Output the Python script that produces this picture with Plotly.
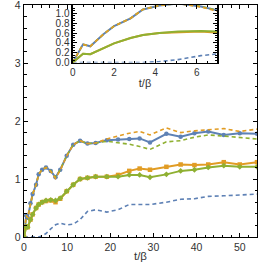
import plotly.graph_objects as go

# time grid (t/beta)
t = [0, 0.5, 0.85, 1.5, 2.0, 2.8, 3.4, 4.2, 5.1, 6.2, 7.3, 8.4, 9.9, 11.4, 13.0, 14.7, 16.6,
     19.2, 21.8, 24.4, 26.8, 29.2, 33.0, 36.3, 39.5, 42.7, 46.3, 50.0, 54.0]

blue_solid = [0, 0.37, 0.33, 0.58, 0.74, 0.90, 1.08, 1.16, 1.20, 1.14, 1.03, 1.16, 1.40, 1.59, 1.66, 1.61, 1.62,
              1.67, 1.68, 1.69, 1.70, 1.63, 1.78, 1.73, 1.79, 1.82, 1.76, 1.79, 1.78]
orange_dashed = [0, 0.37, 0.33, 0.58, 0.74, 0.90, 1.08, 1.16, 1.20, 1.13, 1.01, 1.15, 1.40, 1.59, 1.66, 1.61, 1.62,
                 1.69, 1.74, 1.79, 1.82, 1.76, 1.88, 1.80, 1.83, 1.85, 1.87, 1.82, 1.86]
green_dashed = [0, 0.37, 0.33, 0.58, 0.74, 0.90, 1.08, 1.16, 1.20, 1.14, 1.03, 1.16, 1.40, 1.59, 1.66, 1.61, 1.62,
                1.65, 1.63, 1.60, 1.56, 1.51, 1.64, 1.66, 1.72, 1.76, 1.74, 1.71, 1.69]
orange_solid = [0, 0.18, 0.17, 0.30, 0.39, 0.50, 0.56, 0.60, 0.62, 0.63, 0.60, 0.66, 0.79, 0.90, 1.00, 1.02, 1.04,
                1.04, 1.07, 1.14, 1.18, 1.16, 1.21, 1.25, 1.24, 1.25, 1.29, 1.25, 1.29]
green_solid = [0, 0.18, 0.17, 0.30, 0.39, 0.50, 0.56, 0.60, 0.63, 0.64, 0.63, 0.67, 0.79, 0.90, 1.00, 1.02, 1.04,
               1.04, 1.04, 1.07, 1.07, 1.03, 1.08, 1.14, 1.16, 1.20, 1.23, 1.21, 1.21]
blue_dashed = [0, 0, 0, 0, 0, 0, 0, 0.02, 0.06, 0.14, 0.21, 0.24, 0.21, 0.22, 0.30, 0.44, 0.47,
               0.43, 0.47, 0.56, 0.56, 0.56, 0.60, 0.65, 0.66, 0.70, 0.71, 0.72, 0.74]

main_xticks = [0, 10, 20, 30, 40, 50]
main_yticks = [0, 1, 2, 3, 4]
inset_xticks = [0, 2, 4, 6]
inset_yticks = [0.0, 0.2, 0.4, 0.6, 0.8, 1.0]
inset_yticklabels = ["0.0", "0.2", "0.4", "0.6", "0.8", "1.0"]

BLUE = "#5E81B5"
ORANGE = "#E19C24"
GREEN = "#8FB032"

fig = go.Figure()


def add_series(xa, ya, markers):
    mode = "lines+markers" if markers else "lines"
    ms = 4.5 if markers else 0
    fig.add_trace(go.Scatter(x=t, y=blue_dashed, mode="lines", xaxis=xa, yaxis=ya,
                             line=dict(color=BLUE, width=1.6, dash="4px,3px")))
    fig.add_trace(go.Scatter(x=t, y=blue_solid, mode=mode, xaxis=xa, yaxis=ya,
                             line=dict(color=BLUE, width=2), marker=dict(size=ms, symbol="circle", color=BLUE)))
    fig.add_trace(go.Scatter(x=t, y=green_dashed, mode="lines", xaxis=xa, yaxis=ya,
                             line=dict(color=GREEN, width=1.6, dash="4px,3px")))
    fig.add_trace(go.Scatter(x=t, y=orange_dashed, mode="lines", xaxis=xa, yaxis=ya,
                             line=dict(color=ORANGE, width=1.6, dash="4px,3px")))
    fig.add_trace(go.Scatter(x=t, y=orange_solid, mode=mode, xaxis=xa, yaxis=ya,
                             line=dict(color=ORANGE, width=2), marker=dict(size=ms, symbol="square", color=ORANGE)))
    fig.add_trace(go.Scatter(x=t, y=green_solid, mode=mode, xaxis=xa, yaxis=ya,
                             line=dict(color=GREEN, width=2), marker=dict(size=ms, symbol="diamond", color=GREEN)))


add_series("x", "y", True)
add_series("x2", "y2", False)

FONT = "Liberation Sans, Arial, sans-serif"
tickfont = dict(family=FONT, size=10.5, color="#333333")
axcommon = dict(showline=True, linecolor="black", linewidth=1.2, mirror="allticks",
                ticks="inside", tickcolor="black", ticklen=4, tickwidth=1,
                showgrid=False, zeroline=False, automargin=False, ticklabeloverflow="allow")

fig.update_layout(
    width=258, height=268,
    margin=dict(l=24, r=1, t=5, b=31),
    paper_bgcolor="white", plot_bgcolor="white",
    showlegend=False,
    hovermode=False,
    xaxis=dict(range=[0, 54], tickvals=main_xticks, tickfont=tickfont,
               minor=dict(dtick=2, ticks="inside", ticklen=2.5, tickcolor="black"),
               title=dict(text="t/β", font=dict(family=FONT, size=11.5, color="#333333"), standoff=0),
               **axcommon),
    yaxis=dict(range=[0, 4], tickvals=main_yticks, tickfont=tickfont,
               minor=dict(dtick=0.2, ticks="inside", ticklen=2.5, tickcolor="black"),
               **axcommon),
    xaxis2=dict(domain=[0.209, 0.83], anchor="y2", range=[0, 7], tickvals=inset_xticks,
                tickfont=dict(family=FONT, size=10, color="#333333"),
                minor=dict(dtick=0.5, ticks="inside", ticklen=2, tickcolor="black"),
                title=dict(text="t/β", font=dict(family=FONT, size=11, color="#333333"), standoff=2),
                **axcommon),
    yaxis2=dict(domain=[0.752, 1.0], anchor="x2", range=[0, 1.17], tickvals=inset_yticks,
                ticktext=inset_yticklabels, tickfont=dict(family=FONT, size=10, color="#333333"),
                minor=dict(dtick=0.05, ticks="inside", ticklen=2, tickcolor="black"),
                **axcommon),
)

fig.write_html("out.html", config={"displayModeBar": False, "staticPlot": True},
               post_script="document.body.style.margin='0';document.body.style.overflow='hidden';")
